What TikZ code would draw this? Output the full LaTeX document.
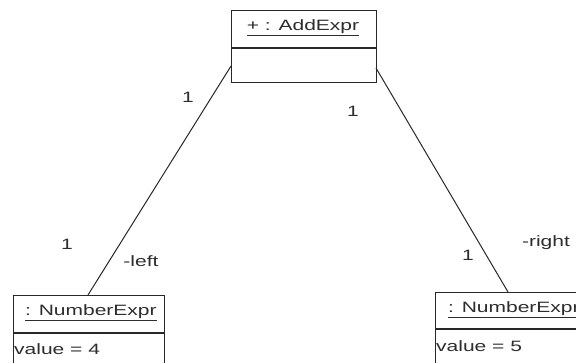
\documentclass[tikz,border=0pt]{standalone}
\usepackage{fontspec}
\setmainfont{Liberation Sans}
\newcommand{\wide}[1]{\scalebox{1.4}[1]{#1}}
\begin{document}
\begin{tikzpicture}[x=1pt,y=-1pt,
  ink/.style={draw={rgb,255:red,40;green,40;blue,40},line width=1.1pt},
  txt/.style={text={rgb,255:red,45;green,45;blue,45},font=\fontsize{15}{18}\selectfont,inner sep=0pt},
  objbox/.style={ink,rectangle,inner sep=0pt,anchor=north west}]
\useasboundingbox (0,0) rectangle (576,362);
\fill[white] (0,0) rectangle (576,362);
\clip (0,0) rectangle (576,362);
% boxes
\node[objbox,minimum width=145pt,minimum height=72pt] (add) at (231,10) {};
\draw[ink] (231,48) -- (376,48);
\node[objbox,minimum width=151pt,minimum height=90pt] (numl) at (13,295) {};
\draw[ink] (13,333) -- (164,333);
\node[objbox,minimum width=160pt,minimum height=90pt] (numr) at (435,292) {};
\draw[ink] (435,329) -- (600,329);
% texts
\node[txt] (addt) at (303,28) {\wide{\underline{+ : AddExpr}}};
\node[txt,anchor=west] (numlt) at (25,313) {\wide{\underline{: NumberExpr}}};
\node[txt,anchor=west] (numrt) at (448,310) {\wide{\underline{: NumberExpr}}};
\node[txt,anchor=west] (vall) at (14,349) {\wide{value = 4}};
\node[txt,anchor=west] (valr) at (436,346) {\wide{value = 5}};
% connector end points
\coordinate (a1) at (231,66);
\coordinate (a2) at (376,68);
\coordinate (l1) at (88,295);
\coordinate (r1) at (508,292);
\draw[ink,line width=1pt] (a1) -- (l1);
\draw[ink,line width=1pt] (a2) -- (r1);
% labels
\node[txt] (m1) at (188,97) {\wide{1}};
\node[txt] (m2) at (353,111) {\wide{1}};
\node[txt] (m3) at (67,244) {\wide{1}};
\node[txt] (m4) at (468,255) {\wide{1}};
\node[txt] (rl) at (141,261) {\wide{-left}};
\node[txt] (rr) at (546,243) {\wide{-right}};
\end{tikzpicture}
\end{document}
